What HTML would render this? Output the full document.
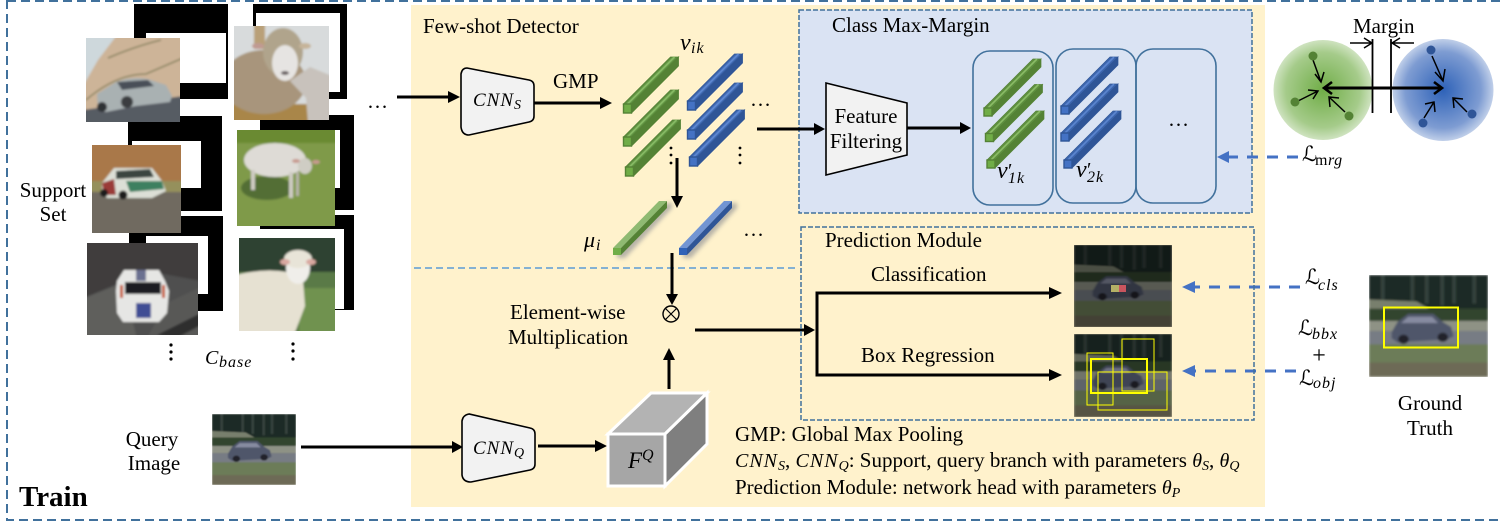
<!DOCTYPE html>
<html><head><meta charset="utf-8"><style>
html,body{margin:0;padding:0;background:#fff}
svg{display:block}
text{font-family:"Liberation Serif","DejaVu Serif",serif;font-size:21px;fill:#000}
.m{font-style:italic;font-size:19px}
.s{font-size:14px;font-style:italic}
.v{font-style:italic;font-size:24px}
.u{font-style:italic;font-size:16px;letter-spacing:1px}
.l{font-family:"DejaVu Sans",sans-serif;font-style:italic;font-size:21px}
</style></head><body>
<svg width="1502" height="531" viewBox="0 0 1502 531" xmlns="http://www.w3.org/2000/svg">
<defs>
<filter id="b" x="-5%" y="-5%" width="110%" height="110%"><feGaussianBlur stdDeviation="1"/></filter>
<filter id="sh" x="-20%" y="-20%" width="140%" height="140%"><feGaussianBlur stdDeviation="2"/></filter>
<radialGradient id="gg"><stop offset="0" stop-color="#70ad47"/><stop offset=".75" stop-color="#a5cb8a"/><stop offset="1" stop-color="#cfe3c0"/></radialGradient>
<radialGradient id="bg"><stop offset="0" stop-color="#2e62b8"/><stop offset=".75" stop-color="#7e9cd2"/><stop offset="1" stop-color="#c0cfe9"/></radialGradient>
<g id="gb"><polygon points="0,0 8,0 55,-47 47,-47" fill="#5f9040" stroke="#548235" stroke-width=".8"/><line x1="4" y1="0" x2="51" y2="-47" stroke="#84b862" stroke-width="2"/><polygon points="8,0 8,9 55,-38 55,-47" fill="#548235" stroke="#548235" stroke-width=".8"/><rect width="8" height="9" fill="#70ad47" stroke="#548235" stroke-width="1.4"/></g>
<g id="bb"><polygon points="0,0 8,0 55,-47 47,-47" fill="#3d66ad" stroke="#2f5597" stroke-width=".8"/><line x1="4" y1="0" x2="51" y2="-47" stroke="#5b85cf" stroke-width="2"/><polygon points="8,0 8,9 55,-38 55,-47" fill="#2f5597" stroke="#2f5597" stroke-width=".8"/><rect width="8" height="9" fill="#4472c4" stroke="#2f5597" stroke-width="1.4"/></g>
<g id="gc"><polygon points="0,0 8,0 57,-49 49,-49" fill="#5f9040" stroke="#548235" stroke-width=".7"/><line x1="4" y1="0" x2="53" y2="-49" stroke="#8abc66" stroke-width="1.6"/><polygon points="8,0 8,8 57,-41 57,-49" fill="#548235" stroke="#548235" stroke-width=".7"/><rect width="8" height="8" fill="#70ad47" stroke="#548235" stroke-width="1.4"/></g>
<g id="bc"><polygon points="0,0 8,0 57,-49 49,-49" fill="#3d66ad" stroke="#2f5597" stroke-width=".7"/><line x1="4" y1="0" x2="53" y2="-49" stroke="#5b85cf" stroke-width="1.6"/><polygon points="8,0 8,8 57,-41 57,-49" fill="#2f5597" stroke="#2f5597" stroke-width=".7"/><rect width="8" height="8" fill="#4472c4" stroke="#2f5597" stroke-width="1.4"/></g>
<symbol id="q" viewBox="0 0 100 100" preserveAspectRatio="none">
<g filter="url(#b)">
<rect width="100" height="100" fill="#6a7858"/>
<rect width="100" height="40" fill="#1f2b25"/>
<g fill="#36423c"><rect x="10" width="3" height="26"/><rect x="35" width="3" height="26"/><rect x="47" width="3" height="28"/><rect x="60" width="3" height="30"/><rect x="70" width="3" height="28"/><rect x="87" width="3" height="28"/></g>
<polygon points="0,24 40,26 52,34 0,34" fill="#787f6d"/>
<rect y="33" width="100" height="13" fill="#33452f"/>
<rect y="45" width="100" height="10" fill="#8e9285"/>
<rect y="55" width="100" height="14" fill="#777b84"/>
<rect y="68" width="100" height="20" fill="#6c7c58"/>
<rect y="86" width="100" height="14" fill="#6d6b56"/>
<path d="M19,56 L24,46 L33,38 L54,38 L62,46 L69,51 L71,60 L66,63 L24,66 L19,62Z" fill="#50566a"/>
<polygon points="33,41 53,41 58,47 27,47" fill="#868ba0"/>
<circle cx="29" cy="63" r="4.500" fill="#22242a"/><circle cx="62" cy="61" r="4.500" fill="#22242a"/>
</g></symbol>
</defs>

<rect x="411" y="5" width="854" height="502" fill="#fff2cc"/>
<rect x="7" y="1" width="1515" height="519" fill="none" stroke="#41719c" stroke-width="2" stroke-dasharray="9 5"/>

<!-- black frames -->
<g>
<rect x="134" y="4" width="94" height="95"/><rect x="146" y="33" width="80" height="50" fill="#fff"/>
<rect x="253" y="4" width="94" height="95"/><rect x="256" y="13" width="84" height="79" fill="#fff"/>
<rect x="128" y="116" width="94" height="95"/><rect x="132" y="141" width="69" height="47" fill="#fff"/>
<rect x="260" y="115" width="94" height="95"/><rect x="260" y="130" width="80" height="58" fill="#fff"/>
<rect x="129" y="216" width="94" height="95"/><rect x="146" y="236" width="62" height="58" fill="#fff"/>
<rect x="260" y="215" width="94" height="95"/><rect x="260" y="229" width="84" height="80" fill="#fff"/>
</g>

<!-- car 1 -->
<svg x="86" y="38" width="94" height="84"><g filter="url(#b)">
<rect x="-3" y="-3" width="100" height="90" fill="#cdb498"/>
<polygon points="-3,-3 31,-3 12,22 -3,48" fill="#ced8dc"/>
<path d="M0,62 Q30,36 60,36 L97,20" stroke="#8a8460" stroke-width="1.5" fill="none"/>
<path d="M22,20 Q50,8 75,2" stroke="#8a8460" stroke-width="1.5" fill="none"/>
<polygon points="-3,72 97,58 97,87 -3,87" fill="#565b63"/>
<path d="M11,56 L30,44 Q45,38 62,41 L80,47 L86,58 L84,64 L50,68 L20,74 L12,72Z" fill="#a9b1b2"/>
<polygon points="31,44 62,42 68,48 36,52" fill="#4a5058"/>
<circle cx="41" cy="64" r="6" fill="#3a3c40"/><circle cx="16" cy="69" r="5" fill="#2e3034"/>
</g></svg>
<!-- sheep 1 -->
<svg x="234" y="26" width="95" height="94"><g filter="url(#b)">
<rect x="-3" y="-3" width="101" height="100" fill="#d8dbdc"/>
<rect x="20" y="-3" width="11" height="26" fill="#b9a078"/>
<rect x="-3" y="78" width="101" height="19" fill="#a98648"/>
<ellipse cx="30" cy="56" rx="42" ry="32" fill="#a8957c"/>
<ellipse cx="49" cy="26" rx="20" ry="24" fill="#b0a48c"/>
<ellipse cx="51" cy="37" rx="13" ry="18" fill="#e6e4e2"/>
<ellipse cx="24" cy="20" rx="6" ry="3" fill="#c09a92"/><ellipse cx="71" cy="20" rx="6" ry="3" fill="#c6b49a"/>
<path d="M56,55 L76,41 L98,50 L98,97 L74,97 L72,72Z" fill="#c8c2bc"/>
<ellipse cx="51" cy="47" rx="4" ry="2" fill="#6a6264"/>
</g></svg>
<!-- car 2 -->
<svg x="92" y="145" width="89" height="88"><g filter="url(#b)">
<rect x="-3" y="-3" width="95" height="40" fill="#a9784a"/>
<rect x="-3" y="36" width="95" height="12" fill="#95905c"/>
<rect x="-3" y="47" width="95" height="44" fill="#6f6b60"/>
<path d="M10,38 L22,23 L60,23 L70,36 L74,46 L60,53 L15,53 L10,48Z" fill="#dcdfd6"/>
<polygon points="34,36 70,36 72,44 38,47" fill="#3d8060"/>
<polygon points="24,26 58,24 62,32 24,34" fill="#3a4440"/>
<polygon points="10,38 22,34 24,50 12,50" fill="#9a3a38"/>
<circle cx="31" cy="50" r="4.500" fill="#1d1d1d"/><circle cx="12" cy="48" r="4" fill="#1d1d1d"/>
</g></svg>
<!-- sheep 2 -->
<svg x="237" y="130" width="98" height="96"><g filter="url(#b)">
<rect x="-3" y="-3" width="104" height="102" fill="#7f9a48"/>
<ellipse cx="30" cy="58" rx="26" ry="12" fill="#526e36"/>
<rect x="-3" y="-3" width="104" height="16" fill="#6b8a32"/>
<ellipse cx="38" cy="30" rx="31" ry="17" fill="#dedbd6"/>
<ellipse cx="68" cy="36" rx="7" ry="8" fill="#cfcdc4"/>
<ellipse cx="59" cy="31" rx="4" ry="2" fill="#c89a90"/><ellipse cx="79" cy="32" rx="4" ry="2" fill="#c89a90"/>
<rect x="14" y="40" width="4" height="20" fill="#cfccc4"/><rect x="52" y="42" width="4" height="26" fill="#cfccc4"/><rect x="59" y="42" width="3" height="24" fill="#b8b4aa"/>
</g></svg>
<!-- car 3 -->
<svg x="87" y="243" width="111" height="92"><g filter="url(#b)">
<rect x="-3" y="-3" width="117" height="98" fill="#4f4f4f"/>
<polygon points="-3,-3 114,-3 114,38 60,28 -3,55" fill="#3f3e3e"/>
<polygon points="-3,55 36,40 50,95 -3,95" fill="#5e5e5c"/>
<polygon points="80,60 114,44 114,95 60,95" fill="#595957"/>
<polygon points="70,92 114,70 114,82 90,95" fill="#2e2e2e"/>
<path d="M30,38 L37,27 L72,27 L78,38 L82,48 L80,70 L72,79 L36,79 L30,70 L29,48Z" fill="#e6e6e4"/>
<rect x="38" y="39" width="36" height="12" fill="#1f1f22"/>
<rect x="49" y="27" width="10" height="11" fill="#6a7090"/>
<rect x="49" y="60" width="15" height="15" fill="#3f4e94"/>
<rect x="33" y="42" width="3" height="13" fill="#c7562a"/><rect x="75" y="42" width="3" height="13" fill="#c7562a"/>
</g></svg>
<!-- sheep 3 -->
<svg x="239" y="238" width="96" height="93"><g filter="url(#b)">
<rect x="-3" y="-3" width="102" height="100" fill="#2f4232"/>
<rect x="-3" y="34" width="102" height="63" fill="#5a7a46"/>
<rect x="60" y="50" width="40" height="47" fill="#6f9250"/>
<path d="M-3,37 Q25,30 48,34 L64,42 L66,68 L55,97 L-3,97Z" fill="#e6e1d2"/>
<ellipse cx="59" cy="30" rx="12" ry="16" fill="#f0eeea"/>
<ellipse cx="59" cy="21" rx="14" ry="9" fill="#e8e4d8"/>
<ellipse cx="46" cy="24" rx="5" ry="3" fill="#d9a8a0"/><ellipse cx="72" cy="24" rx="5" ry="3" fill="#d9a8a0"/>
</g></svg>

<text x="53" y="197" text-anchor="middle">Support</text>
<text x="53" y="221" text-anchor="middle">Set</text>
<text x="152" y="446" text-anchor="middle">Query</text>
<text x="154" y="470" text-anchor="middle">Image</text>
<text x="19" y="506" style="font-weight:bold;font-size:29px">Train</text>
<text x="367" y="108">…</text>
<g>
<circle cx="171" cy="345" r="1.6"/><circle cx="171" cy="352" r="1.6"/><circle cx="171" cy="359" r="1.6"/>
<circle cx="293" cy="344" r="1.6"/><circle cx="293" cy="351" r="1.6"/><circle cx="293" cy="359" r="1.6"/>
</g>
<text x="205" y="364" class="v" style="font-size:20px">C</text><text x="219" y="367" class="u" style="font-size:16px;letter-spacing:1px">base</text>

<use href="#q" x="212" y="414" width="84" height="71"/>

<!-- Detector panel -->
<text x="423" y="33">Few-shot Detector</text>
<line x1="414" y1="268" x2="796" y2="268" stroke="#5b9bd5" stroke-width="1.5" stroke-dasharray="7 4"/>

<path d="M397,97H449" stroke="#000" stroke-width="3" fill="none"/><polygon points="448,91 460,97 448,103"/>
<path d="M467,68 Q462,68 461,74 L461,127 Q462,135 469,135 L529,122 Q534,121 534,116 L534,86 Q534,81 529,80Z" fill="#f2f2f2" stroke="#000" stroke-width="1.6"/>
<text x="473" y="106" class="m" style="letter-spacing:1px">CNN<tspan class="s" dy="3">S</tspan></text>
<path d="M534,103H602" stroke="#000" stroke-width="3" fill="none"/><polygon points="600,97 612,103 600,109"/>
<text x="553" y="88">GMP</text>
<text x="680" y="50" class="v">v</text><text x="691" y="53" class="u">ik</text>

<use href="#gb" x="623.5" y="104"/><use href="#gb" x="623.5" y="137"/><use href="#gb" x="625.5" y="167"/>
<use href="#bb" x="687.5" y="101"/><use href="#bb" x="687.5" y="130"/><use href="#bb" x="689.5" y="157"/>
<text x="750" y="106">…</text>
<g>
<circle cx="671" cy="148" r="1.4"/><circle cx="671" cy="155" r="1.4"/><circle cx="671" cy="163" r="1.4"/>
<circle cx="740" cy="148" r="1.4"/><circle cx="740" cy="155" r="1.4"/><circle cx="740" cy="163" r="1.4"/>
</g>
<path d="M677,158V198" stroke="#000" stroke-width="3" fill="none"/><polygon points="671,196 683,196 677,208"/>

<!-- mu bars -->
<polygon points="617,258 625,258 672,208 672,203 667,203 617,250" fill="#999" filter="url(#sh)" opacity=".7"/>
<polygon points="683,258 691,258 737,208 737,203 732,203 683,250" fill="#999" filter="url(#sh)" opacity=".7"/>
<polygon points="613,248 621,248 667,201 659,201" fill="#8fba72"/><polygon points="621,248 621,255 667,208 667,201" fill="#548235"/><rect x="613" y="248" width="8" height="7" fill="#70ad47"/>
<polygon points="679,248 687,248 732,201 724,201" fill="#7295d3"/><polygon points="687,248 687,255 732,208 732,201" fill="#2f5597"/><rect x="679" y="248" width="8" height="7" fill="#2f62b8"/>
<text x="584" y="247" class="v" style="font-size:22px">μ</text><text x="596" y="250" class="u">i</text>
<text x="743" y="236">…</text>

<!-- Element-wise -->
<text x="510" y="319">Element-wise</text>
<text x="508" y="344">Multiplication</text>
<path d="M672,253V296" stroke="#000" stroke-width="3" fill="none"/><polygon points="666,294 678,294 672,305"/>
<circle cx="671" cy="314" r="8" fill="none" stroke="#000" stroke-width="1.4"/>
<path d="M665.5,308.5L676.5,319.5M676.5,308.5L665.5,319.5" stroke="#000" stroke-width="1.2"/>
<path d="M669,389V358" stroke="#000" stroke-width="3" fill="none"/><polygon points="663,360 675,360 669,348"/>
<path d="M695,330H805" stroke="#000" stroke-width="3" fill="none"/><polygon points="804,324 815,330 804,336"/>

<!-- Query row -->
<path d="M301,447H452" stroke="#000" stroke-width="3" fill="none"/><polygon points="452,441 463,447 452,453"/>
<path d="M469,414 Q463,415 462,421 L462,475 Q463,482 471,482 L530,470 Q535,469 535,464 L535,434 Q535,429 530,428Z" fill="#f2f2f2" stroke="#000" stroke-width="1.6"/>
<text x="473" y="454" class="m" style="letter-spacing:1px">CNN<tspan class="s" dy="3">Q</tspan></text>
<path d="M538,446H597" stroke="#000" stroke-width="3" fill="none"/><polygon points="595,440 607,446 595,452"/>
<g stroke="#fff" stroke-width="3" stroke-linejoin="miter">
<polygon points="608,434 651,393 707,393 665,434" fill="#b3b3b3"/>
<polygon points="665,434 707,393 707,444 665,486" fill="#7f7f7f"/>
<rect x="608" y="434" width="57" height="52" fill="#a6a6a6"/>
</g>
<text x="628" y="468" class="v" style="font-size:23px">F</text><text x="642" y="460" class="u">Q</text>

<!-- Bottom notes -->
<text x="735" y="441">GMP: Global Max Pooling</text>
<text x="735" y="467"><tspan class="m" style="font-size:20px;letter-spacing:1px">CNN</tspan><tspan class="s" dy="3">S</tspan><tspan dy="-3">, </tspan><tspan class="m" style="font-size:20px;letter-spacing:1px">CNN</tspan><tspan class="s" dy="3">Q</tspan><tspan dy="-3">: Support, query branch with parameters </tspan><tspan class="m" style="font-size:20px">θ</tspan><tspan class="s" dy="3">S</tspan><tspan dy="-3">, </tspan><tspan class="m" style="font-size:20px">θ</tspan><tspan class="s" dy="3">Q</tspan></text>
<text x="735" y="494">Prediction Module: network head with parameters <tspan class="m" style="font-size:20px">θ</tspan><tspan class="s" dy="3">P</tspan></text>

<!-- Class Max-Margin -->
<rect x="799" y="10" width="453" height="203" fill="#dae3f3" stroke="#41719c" stroke-width="1.5" stroke-dasharray="5 2"/>
<text x="832" y="32">Class Max-Margin</text>
<path d="M757,129H815" stroke="#000" stroke-width="3" fill="none"/><polygon points="814,123 825,129 814,135"/>
<polygon points="826,83 907,103 907,155 826,175" fill="#f2f2f2" stroke="#000" stroke-width="1.6"/>
<text x="866" y="123" text-anchor="middle">Feature</text>
<text x="866" y="148" text-anchor="middle">Filtering</text>
<path d="M907,128H961" stroke="#000" stroke-width="3" fill="none"/><polygon points="960,122 971,128 960,134"/>
<g fill="none" stroke="#41719c" stroke-width="1.6">
<rect x="973" y="51" width="80" height="154" rx="17"/>
<rect x="1056" y="49" width="80" height="154" rx="17"/>
<rect x="1136" y="49" width="80" height="154" rx="17"/>
</g>
<use href="#gc" x="984" y="108"/><use href="#gc" x="985.500" y="133.500"/><use href="#gc" x="987" y="160"/>
<use href="#bc" x="1061" y="106"/><use href="#bc" x="1061" y="133"/><use href="#bc" x="1064" y="160"/>
<text x="1168" y="126">…</text>
<text x="997" y="178" class="v">v</text><text x="1008" y="177" style="font-size:20px">′</text><text x="1008" y="183" class="u">1k</text>
<text x="1076" y="177" class="v">v</text><text x="1087" y="176" style="font-size:20px">′</text><text x="1087" y="182" class="u">2k</text>

<!-- Margin diagram -->
<ellipse cx="1323" cy="90" rx="49.5" ry="50" fill="url(#gg)"/>
<ellipse cx="1443" cy="90" rx="50.5" ry="51" fill="url(#bg)"/>
<text x="1353" y="33">Margin</text>
<path d="M1372.5,39V113M1391,39V113" stroke="#000" stroke-width="1.8" fill="none"/>
<g stroke="#000" fill="none" stroke-width="1.5">
<path d="M1350,43H1372M1364,38L1372,43L1364,48"/>
<path d="M1414,43H1392M1400,38L1392,43L1400,48"/>
<path d="M1313,60L1321,82M1315,74L1321,82L1324,72"/>
<path d="M1298,101L1318,91M1308,90L1318,91L1313,99"/>
<path d="M1345,112L1329,97M1330,107L1329,97L1339,98"/>
<path d="M1432,56L1443,81M1435,72L1443,81L1445,69"/>
<path d="M1424,118L1434,102M1425,104L1434,102L1435,112"/>
<path d="M1467,112L1453,98M1454,108L1453,98L1463,99"/>
</g>
<path d="M1326,88H1440" stroke="#000" stroke-width="3" fill="none"/>
<path d="M1332,82L1324,88L1332,94M1434,82L1442,88L1434,94" stroke="#000" stroke-width="2.6" fill="none"/>
<g fill="#548235"><ellipse cx="1313" cy="56" rx="4.5" ry="4.5"/><ellipse cx="1295" cy="102" rx="4.5" ry="4.5"/><ellipse cx="1349" cy="116" rx="4.5" ry="4.5"/></g>
<g fill="#2f5597"><ellipse cx="1431" cy="50" rx="4.5" ry="4.5"/><ellipse cx="1423" cy="123" rx="4.5" ry="4.5"/><ellipse cx="1472" cy="114" rx="4.5" ry="4.5"/></g>

<!-- dashed loss arrows -->
<g stroke="#4472c4" stroke-width="3" stroke-dasharray="11 9" fill="none">
<path d="M1298,157H1226"/><path d="M1300,287H1192"/><path d="M1296,371H1192"/>
</g>
<g fill="#4472c4"><polygon points="1217,157 1229,151 1229,163"/><polygon points="1182,287 1195,281 1195,293"/><polygon points="1182,371 1195,365 1195,377"/></g>
<text x="1302" y="161" class="l">ℒ</text><text x="1315" y="165" style="font-size:16px;letter-spacing:.5px">m<tspan style="font-style:italic">rg</tspan></text>
<text x="1305" y="284" class="l">ℒ</text><text x="1318" y="290" class="u">cls</text>
<text x="1298" y="335" class="l">ℒ</text><text x="1312" y="339" class="u">bbx</text>
<text x="1319" y="363" text-anchor="middle" style="font-size:24px">+</text>
<text x="1299" y="385" class="l">ℒ</text><text x="1313" y="388" class="u">obj</text>

<!-- Prediction Module -->
<rect x="801" y="227" width="453" height="193" fill="none" stroke="#41719c" stroke-width="1.5" stroke-dasharray="5 2"/>
<text x="825" y="247">Prediction Module</text>
<text x="871" y="281">Classification</text>
<text x="861" y="362">Box Regression</text>
<path d="M1050,293H817V375H1050" stroke="#000" stroke-width="3" fill="none"/>
<polygon points="1049,287 1062,293 1049,299"/><polygon points="1049,369 1062,375 1049,381"/>

<use href="#q" x="1074" y="245" width="98" height="82"/>
<rect x="1074" y="245" width="98" height="82" fill="#000" opacity=".38"/>
<rect x="1111" y="285" width="8" height="7" fill="#b4b066"/><rect x="1119" y="285" width="7" height="7" fill="#c9555e"/>
<use href="#q" x="1074" y="334" width="98" height="83"/>
<rect x="1074" y="334" width="98" height="83" fill="#000" opacity=".2"/>
<g fill="none" stroke="#ffff00">
<rect x="1087" y="353" width="26" height="52"/>
<rect x="1122" y="339" width="32" height="52"/>
<rect x="1098" y="372" width="69" height="38"/>
<rect x="1091" y="359" width="56" height="34" stroke-width="2"/>
</g>
<use href="#q" x="1369" y="275" width="119" height="102"/>
<rect x="1384" y="307.500" width="74" height="40" fill="none" stroke="#ffff00" stroke-width="2"/>
<text x="1430" y="410" text-anchor="middle">Ground</text>
<text x="1430" y="435" text-anchor="middle">Truth</text>
</svg>
</body></html>
